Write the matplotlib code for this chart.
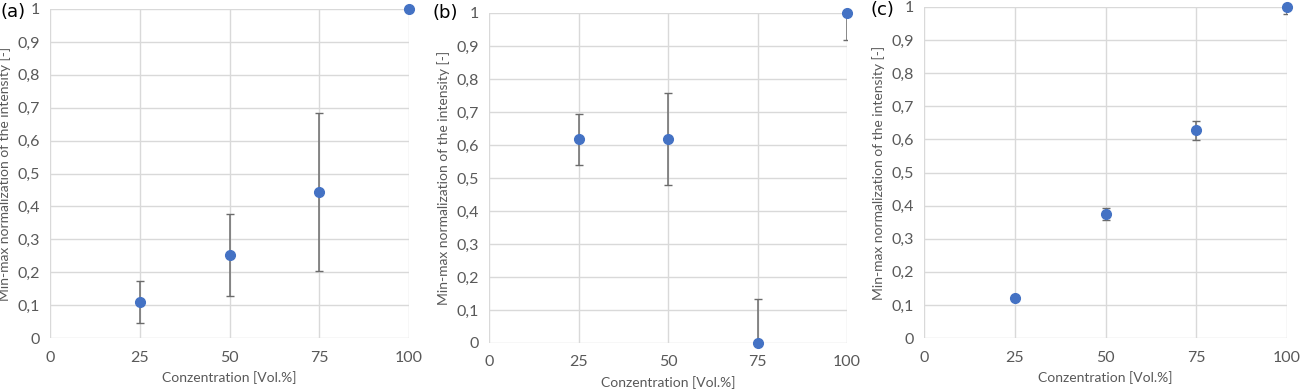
import matplotlib
matplotlib.use("Agg")
import matplotlib.pyplot as plt

conc = [25, 50, 75, 100]

# panel (a)
a_val = [0.110, 0.253, 0.443, 1.0]
a_err = [0.063, 0.125, 0.240, 0.0]
# panel (b)
b_val = [0.617, 0.619, 0.0, 1.0]
b_err = [0.077, 0.139, 0.133, 0.083]
# panel (c)
c_val = [0.120, 0.376, 0.628, 1.0]
c_err = [0.0, 0.018, 0.029, 0.020]

panels = [("(a)", a_val, a_err), ("(b)", b_val, b_err), ("(c)", c_val, c_err)]

W, H = 1300, 392
# axes boxes in pixels: left, right, top, bottom
boxes = [(50, 409, 9, 338), (489, 847, 13, 343), (924, 1287, 7, 338)]
label_pos = [(0, 12), (432, 13), (871, 10)]

xticks = [0, 25, 50, 75, 100]
yticks = [0, 0.1, 0.2, 0.3, 0.4, 0.5, 0.6, 0.7, 0.8, 0.9, 1.0]
ytick_labels = ["0", "0,1", "0,2", "0,3", "0,4", "0,5", "0,6", "0,7", "0,8", "0,9", "1"]

txt = "#595959"
grid = "#d9d9d9"
blue = "#4472C4"

plt.rcParams['font.family'] = ['Lato', 'DejaVu Sans']

fig = plt.figure(figsize=(W / 100, H / 100), dpi=100)

for (name, vals, errs), (l, r, t, b), (lx, ly) in zip(panels, boxes, label_pos):
    ax = fig.add_axes([l / W, (H - b) / H, (r - l) / W, (b - t) / H])
    lower = [min(e, v) for v, e in zip(vals, errs)]
    upper = [min(e, 1.0 - v) if v < 1.0 else 0.0 for v, e in zip(vals, errs)]
    ax.errorbar(conc, vals, yerr=[lower, upper], fmt="none", ecolor="#6b6b6b",
                elinewidth=1.1, capsize=3, capthick=1.0, zorder=3)
    ax.plot(conc, vals, "o", color=blue, markersize=7, zorder=4, clip_on=False)
    ax.set_xlim(0, 100)
    ax.set_ylim(0, 1)
    ax.set_xticks(xticks)
    ax.set_yticks(yticks)
    ax.set_yticklabels(ytick_labels)
    ax.grid(True, color=grid, linewidth=1.0)
    ax.set_axisbelow(True)
    for s in ax.spines.values():
        s.set_visible(False)
    ax.tick_params(length=0, labelsize=11.5, labelcolor=txt, pad=7)
    ax.tick_params(axis="x", pad=9)
    ax.set_xlabel("Conzentration [Vol.%]", fontsize=10, color=txt, labelpad=5)
    ax.set_ylabel("Min-max normalization of the intensity [-]", fontsize=10,
                  color=txt, labelpad=5)
    fig.text(lx / W, 1 - ly / H, name, fontsize=13, color="black",
             family="DejaVu Sans", ha="left", va="center")

fig.savefig("out.png", dpi=100)
